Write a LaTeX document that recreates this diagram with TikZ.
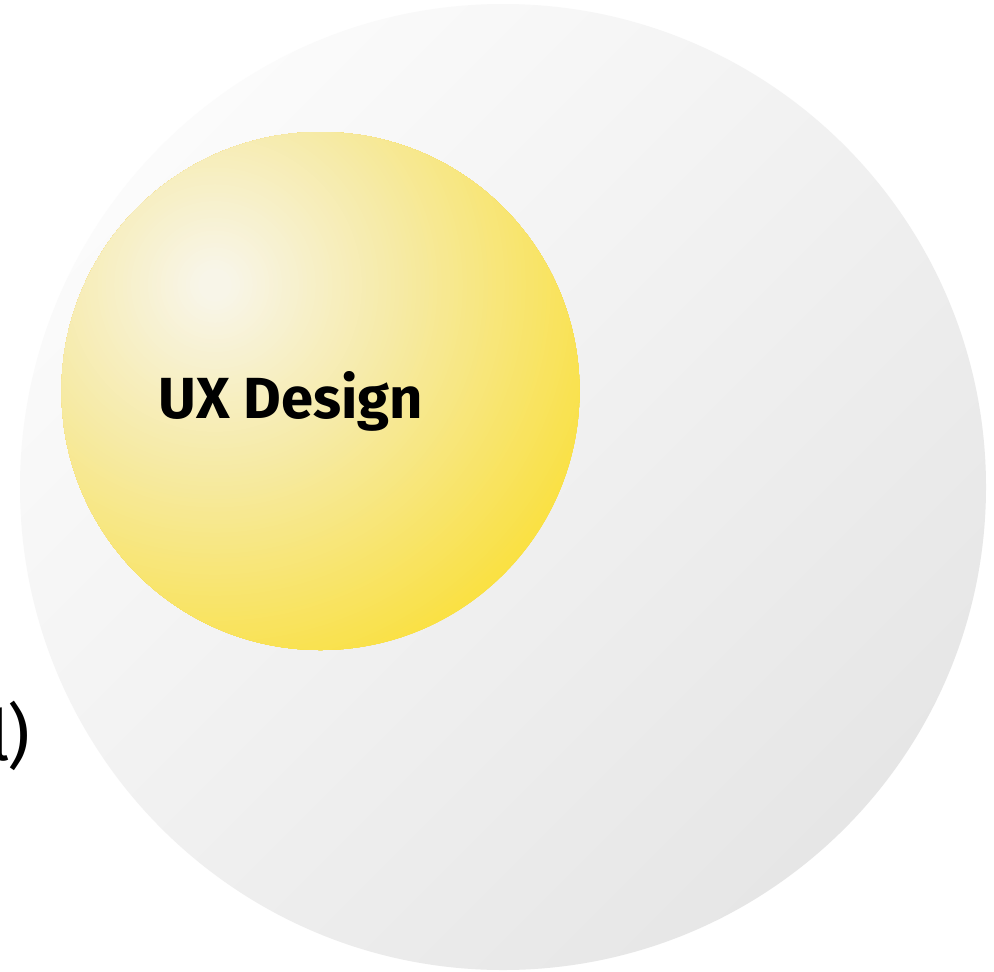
\documentclass[tikz,border=0pt]{standalone}
\usepackage{fontspec}
\setmainfont{Fira Sans}
\newfontfamily\uxfont{Fira Sans}
\definecolor{bigA}{HTML}{FBFBFB}
\definecolor{bigB}{HTML}{E6E6E6}
\definecolor{yhi}{HTML}{F8F5E8}
\definecolor{ymid}{HTML}{F6EAA4}
\definecolor{ylo}{HTML}{FAE03E}
\tikzset{
  outer/.style={shading=axis, top color=bigA, bottom color=bigB, shading angle=45},
  label/.style={font=\uxfont\bfseries\fontsize{33}{36}\selectfont, inner sep=0pt, anchor=base},
  cut/.style={font=\fontsize{40}{44}\selectfont, inner sep=0pt, anchor=base east}
}
\begin{document}
\begin{tikzpicture}[x=0.02cm, y=-0.02cm]
\useasboundingbox (0,0) rectangle (994,971);
\fill[white] (0,0) rectangle (994,971);
\shade[outer] (503,487) circle (483);
\coordinate (yc) at (320.5,391);
\coordinate (hl) at (215,285);
\begin{scope}
  \clip (yc) circle (259);
  \foreach \i in {100,...,0}{
    \pgfmathsetmacro{\r}{4.2*\i}
    \ifnum\i>45
      \pgfmathsetmacro{\p}{100*(\i-45)/55}
      \fill[ylo!\p!ymid] (hl) circle (\r);
    \else
      \pgfmathsetmacro{\p}{max(0,100*(\i-4)/41)}
      \fill[ymid!\p!yhi] (hl) circle (\r);
    \fi
  }
\end{scope}
\node[label] (ux) at (291,418) {UX Design};
\node[cut] (frag) at (31,760) {l\kern-1.5pt)};
\end{tikzpicture}
\end{document}
